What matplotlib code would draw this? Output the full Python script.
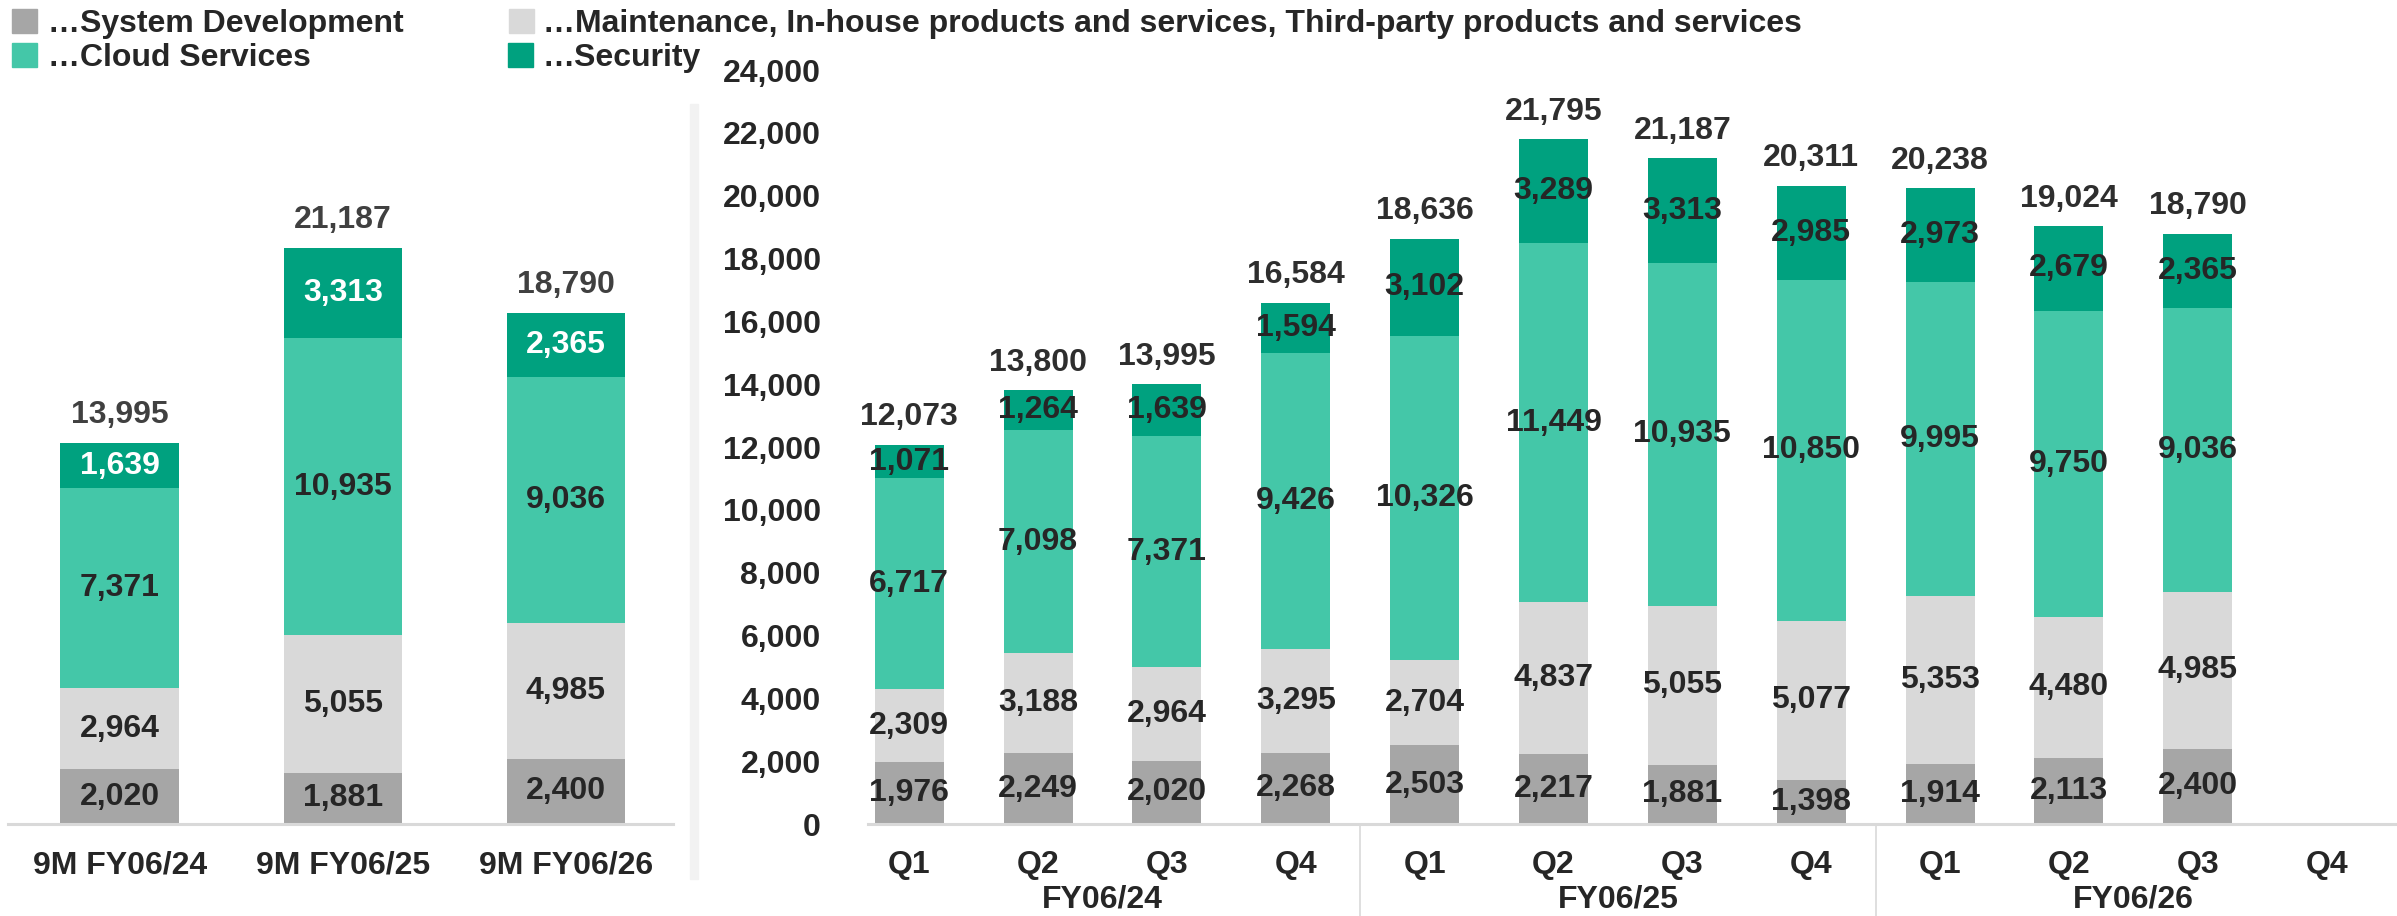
import matplotlib
matplotlib.use("Agg")
import matplotlib.pyplot as plt
from matplotlib.patches import Rectangle
from matplotlib.lines import Line2D

plt.rcParams['font.family'] = ['Liberation Sans', 'DejaVu Sans']
plt.rcParams['font.weight'] = 'bold'

## data
series_names = ['…System Development',
                '…Maintenance, In-house products and services, Third-party products and services',
                '…Cloud Services', '…Security']
colors = ['#A6A6A6', '#D9D9D9', '#44C7A8', '#00A17F']

nine_m_labels = ['9M FY06/24', '9M FY06/25', '9M FY06/26']
nine_m_sysdev = [2020, 1881, 2400]
nine_m_maint = [2964, 5055, 4985]
nine_m_cloud = [7371, 10935, 9036]
nine_m_security = [1639, 3313, 2365]
nine_m_totals = [13995, 21187, 18790]

q_labels = ['Q1', 'Q2', 'Q3', 'Q4'] * 3
fy_labels = ['FY06/24', 'FY06/25', 'FY06/26']
q_sysdev = [1976, 2249, 2020, 2268, 2503, 2217, 1881, 1398, 1914, 2113, 2400]
q_maint = [2309, 3188, 2964, 3295, 2704, 4837, 5055, 5077, 5353, 4480, 4985]
q_cloud = [6717, 7098, 7371, 9426, 10326, 11449, 10935, 10850, 9995, 9750, 9036]
q_security = [1071, 1264, 1639, 1594, 3102, 3289, 3313, 2985, 2973, 2679, 2365]
q_totals = [12073, 13800, 13995, 16584, 18636, 21795, 21187, 20311, 20238, 19024, 18790]

W, H = 2397, 916
txt = '#262626'
fs = 23

fig = plt.figure(figsize=(W / 100, H / 100), dpi=100)


def stacked(ax, xs, layers, totals, width, sec_color, tot_color):
    bottoms = [0] * len(xs)
    for i, vals in enumerate(layers):
        ax.bar(xs, vals, width, bottom=bottoms, color=colors[i], linewidth=0, zorder=2)
        for x, b, v in zip(xs, bottoms, vals):
            c = sec_color if i == 3 else txt
            ax.text(x, b + v / 2, f'{v:,}', ha='center', va='center',
                    fontsize=fs, color=c, fontweight='bold', zorder=3)
        bottoms = [b + v for b, v in zip(bottoms, vals)]
    for x, top, t in zip(xs, bottoms, totals):
        ax.annotate(f'{t:,}', (x, top), xytext=(0, 20), textcoords='offset points',
                    ha='center', va='center', fontsize=fs, color=tot_color, fontweight='bold')


def style(ax):
    for s in ['top', 'right', 'left']:
        ax.spines[s].set_visible(False)
    ax.spines['bottom'].set_color('#D9D9D9')
    ax.spines['bottom'].set_linewidth(2.2)
    ax.spines['bottom'].set_zorder(4)
    ax.tick_params(axis='both', length=0)


## left panel (9M)
axL = fig.add_axes([8 / W, 92 / H, (673 - 8) / W, 653 / H])
xl = list(range(len(nine_m_labels)))
stacked(axL, xl, [nine_m_sysdev, nine_m_maint, nine_m_cloud, nine_m_security],
        nine_m_totals, 0.53, 'white', '#404040')
axL.set_xlim(-0.50, 2.48)
axL.set_ylim(0, 24000)
style(axL)
axL.set_yticks([])
axL.set_xticks(xl)
axL.set_xticklabels(nine_m_labels, fontsize=fs, color=txt, fontweight='bold')
axL.tick_params(axis='x', pad=19)

## right panel (quarters)
axR = fig.add_axes([868 / W, 92 / H, (W - 868) / W, (824 - 70) / H])
xr = list(range(len(q_sysdev)))
stacked(axR, xr, [q_sysdev, q_maint, q_cloud, q_security], q_totals, 0.535, txt, '#2E2E2E')
axR.set_xlim(-0.32, 11.546)
axR.set_ylim(0, 24000)
style(axR)
axR.set_yticks(range(0, 24001, 2000))
axR.set_yticklabels([f'{v:,}' for v in range(0, 24001, 2000)], fontsize=fs, color=txt,
                    fontweight='bold')
axR.tick_params(axis='y', pad=34)
axR.set_xticks(range(len(q_labels)))
axR.set_xticklabels(q_labels, fontsize=fs, color=txt, fontweight='bold')
axR.tick_params(axis='x', pad=19)
for i, fy in enumerate(fy_labels):
    axR.annotate(fy, (i * 4 + 1.5, 0), xycoords=('data', 'axes fraction'),
                 xytext=(0, -54), textcoords='offset points', ha='center', va='center',
                 fontsize=fs, color=txt, fontweight='bold', annotation_clip=False)
for xsep in [3.5, 7.5]:
    axR.add_line(Line2D([xsep, xsep], [0, -0.125], transform=axR.get_xaxis_transform(),
                        color='#D9D9D9', lw=1.2, clip_on=False))

## panel separator
fig.patches.append(Rectangle((690 / W, 1 - 879 / H), 8 / W, (879 - 104) / H,
                             transform=fig.transFigure, color='#F2F2F2', zorder=0))

## legend
leg = [(12, 9, 48, 0), (509, 9, 543, 1), (12, 43, 48, 2), (508, 43, 543, 3)]
for mx, my, tx, i in leg:
    fig.patches.append(Rectangle((mx / W, 1 - (my + 24) / H), 25 / W, 24 / H,
                                 transform=fig.transFigure, color=colors[i]))
    fig.text(tx / W, 1 - (my + 15) / H, series_names[i], fontsize=fs, color=txt,
             fontweight='bold', va='center', ha='left')

fig.savefig('out.png', dpi=100)
